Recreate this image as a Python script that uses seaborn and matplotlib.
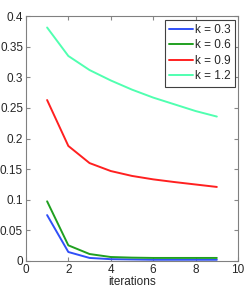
import matplotlib
matplotlib.use('Agg')
import matplotlib.pyplot as plt
import seaborn as sns
import pandas as pd

# values
iterations = [1, 2, 3, 4, 5, 6, 7, 8, 9]
err_k03 = [0.075, 0.0147, 0.005, 0.003, 0.0025, 0.002, 0.002, 0.002, 0.002]
err_k06 = [0.0975, 0.0256, 0.0114, 0.0065, 0.0055, 0.005, 0.005, 0.005, 0.005]
err_k09 = [0.263, 0.188, 0.160, 0.147, 0.139, 0.1334, 0.129, 0.125, 0.121]
err_k12 = [0.3815, 0.335, 0.312, 0.295, 0.280, 0.267, 0.256, 0.245, 0.236]
labels = ['k = 0.3', 'k = 0.6', 'k = 0.9', 'k = 1.2']
colors = ['#3050f8', '#20a020', '#ff2020', '#50ffb0']

df = pd.DataFrame({
    'iterations': iterations * 4,
    'value': err_k03 + err_k06 + err_k09 + err_k12,
    'k': [lab for lab in labels for _ in iterations],
})

sns.set_style('ticks')
plt.rcParams['font.family'] = ['Liberation Sans', 'DejaVu Sans']

fig = plt.figure(figsize=(2.49, 2.87), dpi=100)
ax = fig.add_axes([0.104, 0.0906, 0.852, 0.853])

sns.lineplot(data=df, x='iterations', y='value', hue='k', palette=colors,
             linewidth=1.4, ax=ax)

ax.set_xlim(0, 10)
ax.set_ylim(0, 0.4)
ax.set_xticks([0, 2, 4, 6, 8, 10])
ax.set_yticks([0, 0.05, 0.1, 0.15, 0.2, 0.25, 0.3, 0.35, 0.4])
ax.set_yticklabels(['0', '0.05', '0.1', '0.15', '0.2', '0.25', '0.3', '0.35', '0.4'])
ax.set_xlabel('iterations', fontsize=8.5, labelpad=0.5)
ax.set_ylabel('')
ax.tick_params(direction='in', length=3, labelsize=8.5, pad=2,
               top=True, right=True, color='#888888')
for sp in ax.spines.values():
    sp.set_color('#808080')
    sp.set_linewidth(0.8)

leg = ax.legend(loc='upper right', fontsize=8.5, handlelength=2.0,
                handletextpad=0.15, borderaxespad=0.3, borderpad=0.35,
                labelspacing=0.3, fancybox=False, framealpha=1)
leg.get_frame().set_edgecolor('#404040')
leg.get_frame().set_linewidth(0.8)

fig.savefig('out.png', dpi=100)
